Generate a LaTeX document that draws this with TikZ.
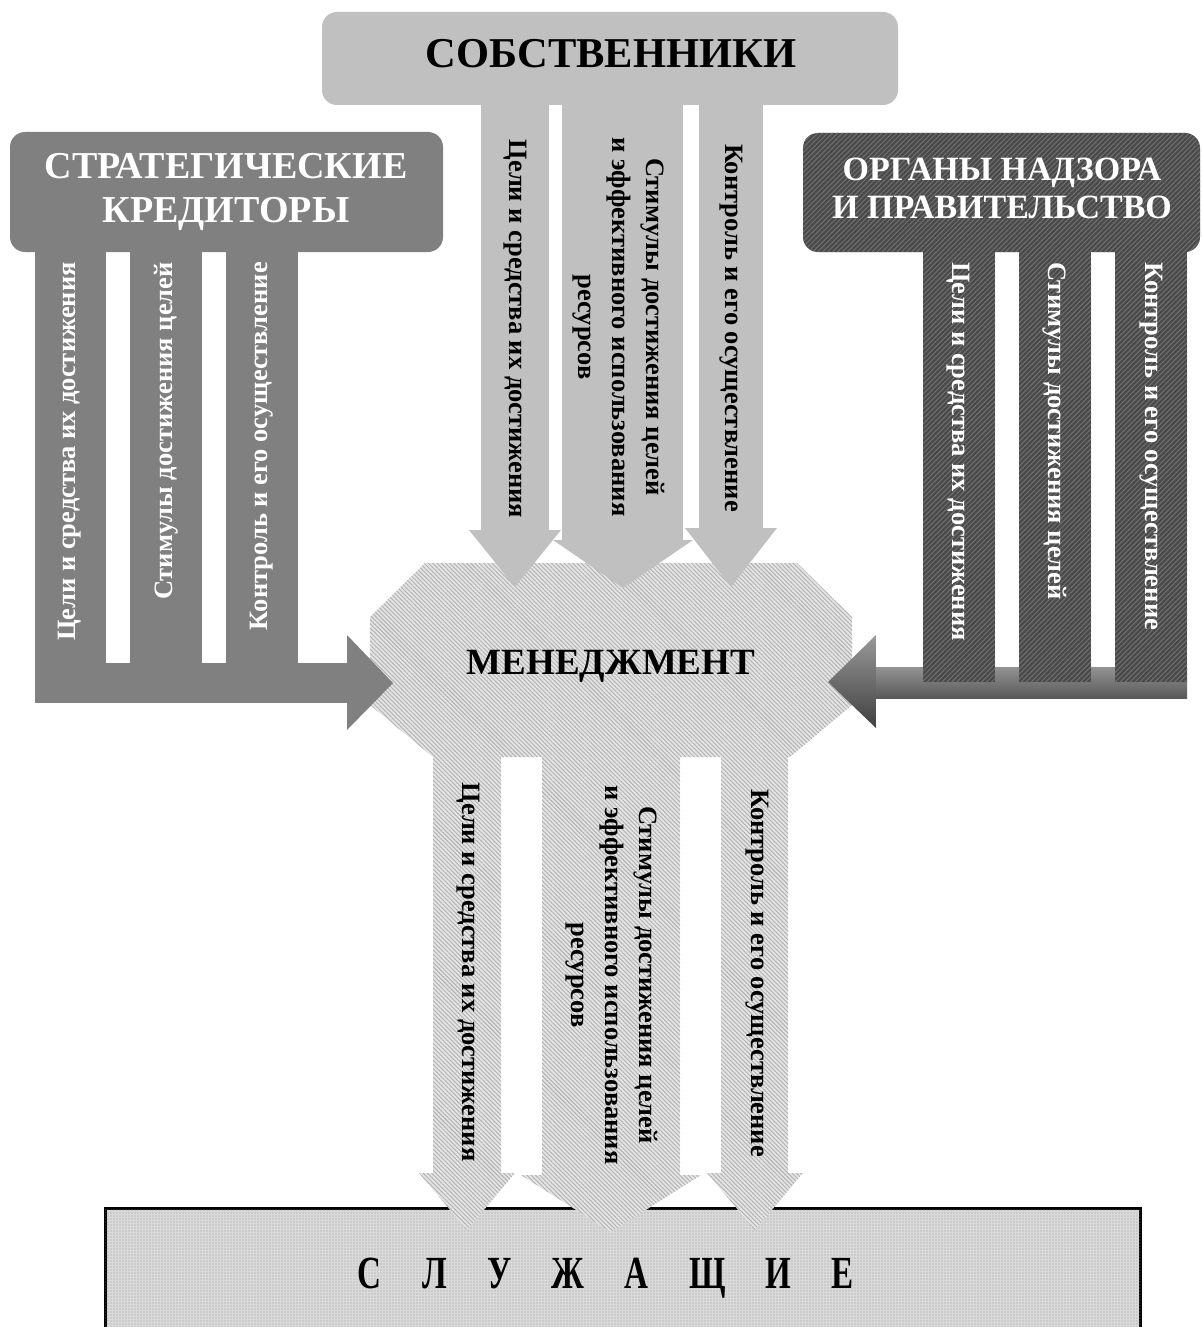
\documentclass[tikz,border=0pt]{standalone}
\usepackage{fontspec}
\setmainfont{Liberation Serif}
\usetikzlibrary{patterns.meta}
\definecolor{cred}{HTML}{808080}
\definecolor{own}{HTML}{C0C0C0}
\definecolor{regbase}{HTML}{4A4A4A}
\definecolor{regline}{HTML}{707070}
\definecolor{mgbase}{HTML}{E4E4E4}
\definecolor{mgline}{HTML}{B0B0B0}
\definecolor{empbase}{HTML}{DADADA}
\definecolor{empdot}{HTML}{9A9A9A}
\tikzset{
  credfill/.style={fill=cred},
  ownfill/.style={fill=own},
  regfill/.style={fill=regbase, postaction={pattern={Lines[angle=45,distance=3.5pt,line width=1pt]}, pattern color=regline}},
  mgfill/.style={fill=mgbase, postaction={pattern={Lines[angle=-45,distance=3pt,line width=0.9pt]}, pattern color=mgline}},
  empfill/.style={fill=empbase, postaction={pattern={Dots[distance=3pt,radius=0.7pt]}, pattern color=empdot}},
  vlab/.style={inner sep=0pt, font=\fontsize{26.5}{34}\selectfont\bfseries, align=center},
  head/.style={inner sep=0pt, align=center},
}
\begin{document}
\begin{tikzpicture}[x=1pt,y=-1pt]
\useasboundingbox (0,0) rectangle (1202,1327);
% ---------- bottom box (employees)
\path[empfill, draw=black, line width=3pt] (105,1208) rectangle (1140,1340);
\node[head, font=\fontsize{46}{46}\selectfont\bfseries] (emp) at (606,1278)
  {\scalebox{0.72}[1]{{\spaceskip=56pt С Л У Ж А Щ И Е}}};
% ---------- management octagon
\path[mgfill] (425,563) -- (797,563) -- (852,617) -- (852,705) -- (790,757)
  -- (433,757) -- (370,705) -- (370,617) -- cycle;
% lower arrows (management -> employees)
\path[mgfill] (433,750) rectangle (501,1175);
\path[mgfill] (542,750) rectangle (680,1177);
\path[mgfill] (721,750) rectangle (788,1175);
\path[mgfill] (419,1173) -- (467,1230) -- (515,1173) -- cycle;
\path[mgfill] (521,1175) -- (611,1232) -- (701,1175) -- cycle;
\path[mgfill] (707,1173) -- (755,1230) -- (803,1173) -- cycle;
\node[head, font=\fontsize{37}{37}\selectfont\bfseries] (mgmt) at (611,666) {МЕНЕДЖМЕНТ};
% ---------- owners
\path[ownfill, rounded corners=15pt] (322,12) rectangle (898,105);
\path[ownfill] (481,100) rectangle (549,531);
\path[ownfill] (562,100) rectangle (683,541);
\path[ownfill] (699,100) rectangle (763,529);
\path[ownfill] (469,530) -- (515,587) -- (561,530) -- cycle;
\path[ownfill] (553,540) -- (623,588) -- (693,540) -- cycle;
\path[ownfill] (685,528) -- (731,587) -- (777,528) -- cycle;
\node[head, font=\fontsize{42.5}{42.5}\selectfont\bfseries] (own) at (611,54) {СОБСТВЕННИКИ};
\node[vlab, rotate=-90] (o1) at (515,329) {Цели и средства их достижения};
\node[vlab, rotate=-90] (o2) at (619,327) {Стимулы достижения целей\\и эффективного использования\\ресурсов};
\node[vlab, rotate=-90] (o3) at (731,328) {Контроль и его осуществление};
% ---------- strategic creditors
\path[credfill, rounded corners=15pt] (10,132) rectangle (443,252);
\path[credfill] (35,245) rectangle (106,663);
\path[credfill] (130,245) rectangle (202,663);
\path[credfill] (226,245) rectangle (298,663);
\path[credfill] (35,663) rectangle (348,703);
\path[credfill] (347,635) -- (393,683) -- (347,730) -- cycle;
\node[head, text=white, font=\fontsize{38}{44}\selectfont\bfseries] (cred) at (226,192)
  {СТРАТЕГИЧЕСКИЕ\\КРЕДИТОРЫ};
\node[vlab, text=white, rotate=90, anchor=east] (c1) at (70,262) {Цели и средства их достижения};
\node[vlab, text=white, rotate=90, anchor=east] (c2) at (166,262) {Стимулы достижения целей};
\node[vlab, text=white, rotate=90, anchor=east] (c3) at (262,262) {Контроль и его осуществление};
% ---------- regulators and government
\shade[top color=gray!85!white, bottom color=black!65] (875,667) rectangle (1187,698);
\shade[top color=gray!80!white, bottom color=black!75] (876,635) -- (828,682) -- (876,728) -- cycle;
\path[regfill, rounded corners=15pt] (803,133) rectangle (1200,252);
\path[regfill] (923,245) rectangle (995,682);
\path[regfill] (1019,245) rectangle (1091,682);
\path[regfill] (1115,245) rectangle (1187,682);
\node[head, text=white, font=\fontsize{34}{38}\selectfont\bfseries] (reg) at (1002,188)
  {ОРГАНЫ НАДЗОРА\\И ПРАВИТЕЛЬСТВО};
\node[vlab, text=white, rotate=-90, anchor=west] (r1) at (958,262) {Цели и средства их достижения};
\node[vlab, text=white, rotate=-90, anchor=west] (r2) at (1055,262) {Стимулы достижения целей};
\node[vlab, text=white, rotate=-90, anchor=west] (r3) at (1151,262) {Контроль и его осуществление};
% lower labels
\node[vlab, rotate=-90] (l1) at (468,972) {Цели и средства их достижения};
\node[vlab, rotate=-90] (l2) at (612,975) {Стимулы достижения целей\\и эффективного использования\\ресурсов};
\node[vlab, rotate=-90] (l3) at (757,973) {Контроль и его осуществление};
\end{tikzpicture}
\end{document}
